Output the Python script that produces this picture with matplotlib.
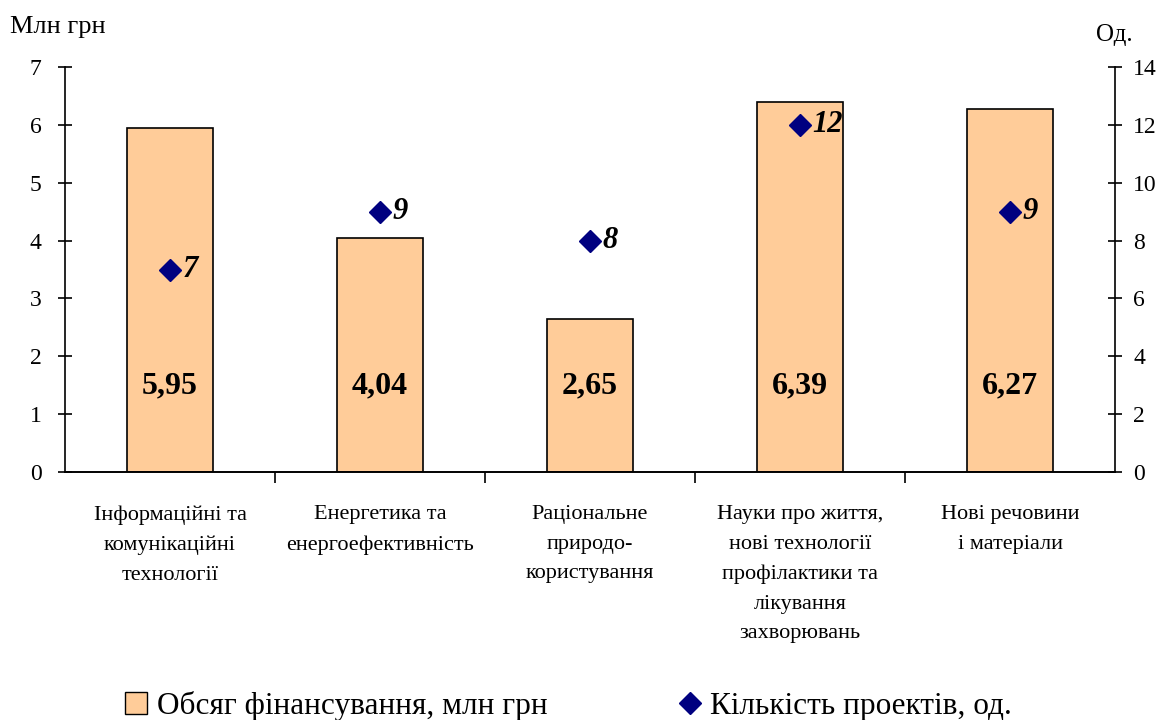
import matplotlib
matplotlib.use("Agg")
import matplotlib.pyplot as plt
from matplotlib.lines import Line2D
from matplotlib.patches import Patch

plt.rcParams["font.family"] = ["Liberation Serif", "DejaVu Serif"]

categories = [
    "Інформаційні та\nкомунікаційні\nтехнології",
    "Енергетика та\nенергоефективність",
    "Раціональне\nприродо-\nкористування",
    "Науки про життя,\nнові технології\nпрофілактики та\nлікування\nзахворювань",
    "Нові речовини\nі матеріали",
]
funding = [5.95, 4.04, 2.65, 6.39, 6.27]
projects = [7, 9, 8, 12, 9]
funding_labels = ["5,95", "4,04", "2,65", "6,39", "6,27"]

fig = plt.figure(figsize=(11.65, 7.2), dpi=100)
ax = fig.add_axes([0.0558, 0.3444, 0.9013, 0.5625])
ax2 = ax.twinx()

x = list(range(len(categories)))
ax.bar(x, funding, width=0.41, color="#FFCC99", edgecolor="black", linewidth=1.2, zorder=2)
for xi, lab in zip(x, funding_labels):
    ax.text(xi, 1.48, lab, ha="center", va="center", fontsize=23, fontweight="bold", zorder=3)

ax2.plot(x, projects, linestyle="none", marker="D", markersize=11, color="#000080", zorder=4)
for xi, v in zip(x, projects):
    ax2.text(xi + 0.06, v, str(v), ha="left", va="center", fontsize=22,
             fontweight="bold", fontstyle="italic")

ax.set_xlim(-0.5, 4.5)
ax.set_ylim(0, 7)
ax2.set_ylim(0, 14)
ax.set_yticks(range(0, 8))
ax2.set_yticks(range(0, 15, 2))

for a in (ax, ax2):
    a.spines["top"].set_visible(False)
    for s in a.spines.values():
        s.set_linewidth(1.2)
ax.spines["right"].set_visible(False)
ax2.spines["left"].set_visible(False)

ax.tick_params(axis="y", direction="inout", length=10, width=1.2, labelsize=17, pad=12)
ax2.tick_params(axis="y", direction="inout", length=10, width=1.2, labelsize=17, pad=8)

ax.set_xticks(x)
ax.set_xticklabels(categories, fontsize=16, linespacing=1.75, va="top")
ax.tick_params(axis="x", length=0, pad=24)
ax.set_xticks([0.5, 1.5, 2.5, 3.5], minor=True)
ax.tick_params(axis="x", which="minor", direction="out", length=8, width=1.2)

fig.text(0.009, 0.962, "Млн грн", fontsize=19, ha="left", va="center")
fig.text(0.941, 0.952, "Од.", fontsize=18, ha="left", va="center")

handles = [
    Patch(facecolor="#FFCC99", edgecolor="black", linewidth=1.0),
    Line2D([], [], linestyle="none", marker="D", markersize=11, color="#000080"),
]
fig.legend(handles, ["Обсяг фінансування, млн грн", "Кількість проектів, од."],
           loc="center", bbox_to_anchor=(0.488, 0.020), ncol=2, frameon=False,
           fontsize=22.5, columnspacing=4.2, handlelength=0.7, handletextpad=0.3,
           handleheight=0.7)

fig.savefig("out.png", dpi=100)
